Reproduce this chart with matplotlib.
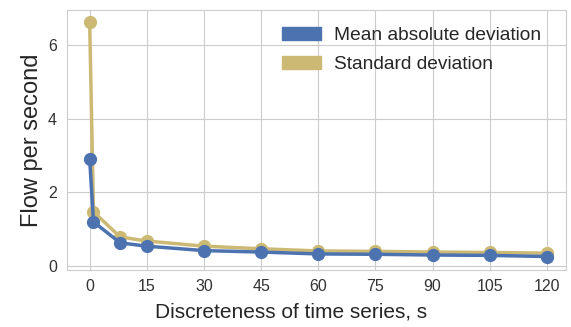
import matplotlib
matplotlib.use("Agg")
import matplotlib.pyplot as plt
import matplotlib.patches as mpatches
import seaborn as sns

# data
s_values = [0, 1, 8, 15, 30, 45, 60, 75, 90, 105, 120]
mad = [2.91, 1.20, 0.63, 0.54, 0.42, 0.38, 0.33, 0.32, 0.30, 0.29, 0.26]
std = [6.63, 1.47, 0.79, 0.68, 0.54, 0.47, 0.41, 0.40, 0.38, 0.37, 0.35]
xticks = [0, 15, 30, 45, 60, 75, 90, 105, 120]

sns.set_style("whitegrid")
plt.rcParams['font.family'] = ['Liberation Sans', 'DejaVu Sans']

blue = '#4C72B0'
gold = '#CCB974'

fig, ax = plt.subplots(figsize=(5.71, 3.27), dpi=100)
ax.plot(s_values, std, color=gold, lw=2.5, marker='o', ms=8.5)
ax.plot(s_values, mad, color=blue, lw=2.5, marker='o', ms=8.5)

ax.set_xticks(xticks)
ax.set_yticks([0, 2, 4, 6])
ax.set_xlim(-6, 125)
ax.set_ylim(-0.1, 6.95)
ax.tick_params(axis='both', labelsize=11.5, colors='#333333')
ax.set_xlabel('Discreteness of time series, s', fontsize=15, color='#262626')
ax.xaxis.set_label_coords(0.449, -0.125)
ax.set_ylabel('Flow per second', fontsize=17, color='#262626')
for sp in ax.spines.values():
    sp.set_color('#cccccc')

handles = [mpatches.Patch(color=blue, label='Mean absolute deviation'),
           mpatches.Patch(color=gold, label='Standard deviation')]
ax.legend(handles=handles, fontsize=13.8, frameon=False, loc='upper right',
          handlelength=2.0, handletextpad=0.7, labelspacing=0.6,
          borderaxespad=0.5, bbox_to_anchor=(0.985, 1.0))

plt.subplots_adjust(left=0.117, right=0.991, top=0.97, bottom=0.175)
plt.savefig("out.png", dpi=100)
